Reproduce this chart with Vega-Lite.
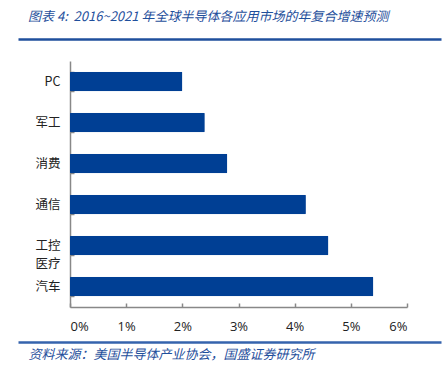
{
  "$schema": "https://vega.github.io/schema/vega-lite/v6.json",
  "autosize": {"type": "none"},
  "padding": {"left": 18, "top": 39, "right": 2, "bottom": 29},
  "width": 423,
  "height": 303,
  "background": "white",
  "config": {"view": {"stroke": null}, "font": "Noto Sans CJK SC"},
  "title": {
    "text": "图表\u00a04:\u00a0\u00a02016~2021\u00a0年全球半导体各应用市场的年复合增速预测",
    "anchor": "start",
    "frame": "group",
    "dx": 10,
    "offset": 9,
    "font": "Noto Sans CJK SC",
    "fontSize": 13,
    "fontStyle": "italic",
    "fontWeight": "normal",
    "color": "#1f4f9c"
  },
  "data": {
    "values": [
      {"category": "PC", "cagr": 0.020},
      {"category": "军工", "cagr": 0.024},
      {"category": "消费", "cagr": 0.028},
      {"category": "通信", "cagr": 0.042},
      {"category": "工控\n医疗", "cagr": 0.046},
      {"category": "汽车", "cagr": 0.054}
    ]
  },
  "encoding": {
    "y": {
      "field": "category",
      "type": "nominal",
      "sort": null,
      "scale": {"range": [22, 268], "paddingInner": 0.52, "paddingOuter": 0.26},
      "axis": {
        "title": null,
        "orient": "left",
        "offset": -52,
        "domainColor": "#888888",
        "domainWidth": 1.5,
        "tickColor": "#888888",
        "tickWidth": 1.5,
        "tickSize": -4,
        "tickBand": "extent",
        "labelFont": "Noto Sans CJK SC",
        "labelFontSize": 12.5,
        "labelColor": "#222222",
        "labelPadding": 14,
        "labelLineHeight": 18,
        "labelOverlap": false,
        "labelExpr": "split(datum.label, '\\n')"
      }
    }
  },
  "layer": [
    {
      "mark": {"type": "bar", "color": "#003f94", "cornerRadius": 1},
      "encoding": {
        "x": {
          "field": "cagr",
          "type": "quantitative",
          "scale": {"domain": [0, 0.06], "range": [52, 389], "nice": false},
          "axis": {
            "title": null,
            "orient": "bottom",
            "offset": -35,
            "format": ".0%",
            "values": [0, 0.01, 0.02, 0.03, 0.04, 0.05, 0.06],
            "labelOverlap": false,
            "grid": false,
            "domainColor": "#888888",
            "domainWidth": 1.5,
            "tickColor": "#888888",
            "tickWidth": 1.5,
            "tickSize": -4,
            "labelFont": "Open Sans",
            "labelFontSize": 13,
            "labelColor": "#222222",
            "labelPadding": 17
          }
        }
      }
    },
    {
      "mark": {"type": "point", "opacity": 0},
      "encoding": {
        "x": {
          "field": "cagr",
          "type": "quantitative",
          "scale": {"domain": [0, 1], "range": [0, 423], "nice": false},
          "axis": {
            "title": null,
            "orient": "top",
            "offset": 0,
            "ticks": false,
            "labels": false,
            "grid": false,
            "domainColor": "#1f4f9c",
            "domainWidth": 2.5
          }
        }
      }
    },
    {
      "mark": {"type": "point", "opacity": 0},
      "encoding": {
        "x": {
          "field": "cagr",
          "type": "quantitative",
          "scale": {"domain": [0, 1], "range": [0, 423], "nice": false},
          "axis": {
            "title": "资料来源：美国半导体产业协会，国盛证券研究所",
            "orient": "bottom",
            "offset": 0,
            "ticks": false,
            "labels": false,
            "grid": false,
            "domainColor": "#3563ad",
            "domainWidth": 2.5,
            "titleFont": "Noto Sans CJK SC",
            "titleFontSize": 13,
            "titleFontStyle": "italic",
            "titleFontWeight": "normal",
            "titleColor": "#1f4f9c",
            "titleAnchor": "start",
            "titleAlign": "left",
            "titleX": 10,
            "titlePadding": 6
          }
        }
      }
    }
  ],
  "resolve": {"scale": {"x": "independent"}, "axis": {"x": "independent"}}
}
